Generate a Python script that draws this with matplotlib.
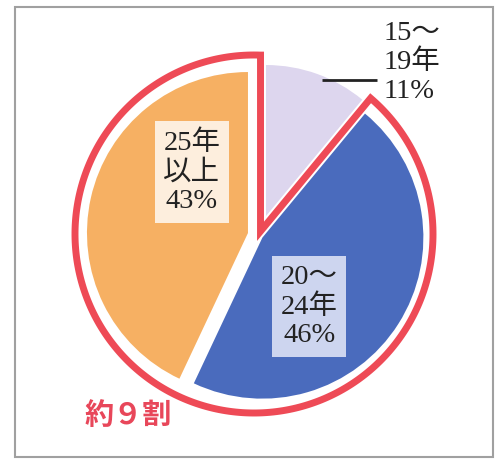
import numpy as np
import matplotlib.pyplot as plt
from matplotlib.patches import Polygon, Rectangle

# data
labels = ["15～\n19年\n11%", "20～\n24年\n46%", "25年\n以上\n43%"]
shares = [11, 46, 43]
colors = ["#ddd6ee", "#4a6bbd", "#f6b063"]
box_colors = [None, "#cdd5ef", "#fdeedd"]
note = "約９割"

W, H = 498, 461
fig = plt.figure(figsize=(W / 100, H / 100), dpi=100)
ax = fig.add_axes([0, 0, 1, 1])

# pie in pixel-like units (y up)
cx, cy = 259, H - 235.5
R = 161
wedges, _ = ax.pie(shares, colors=colors, startangle=90, counterclock=False,
                   radius=R, center=(cx, cy), explode=[20.7, 4, 11.3],
                   wedgeprops=dict(linewidth=0))
wedges[0].set_radius(151)
ax.set_xlim(0, W)
ax.set_ylim(0, H)
ax.set_aspect("auto")
ax.axis("off")

serif = ["Liberation Serif", "Noto Sans CJK JP"]
fs = 20.5

# red outline around the two big slices
lav = wedges[0]
Lx, Ly = lav.center
m = 5.5
a = np.deg2rad(lav.theta1)          # right edge of the small slice
d = np.array([np.cos(a), np.sin(a)])
n = np.array([d[1], -d[0]])         # normal toward the big slices
vx = Lx - m
vy = Ly + (m - (vx - Lx) * n[0]) / n[1]
V = np.array([vx, vy])
rc = np.array([cx - 5, cy + 1.5])
rr = 179
# diagonal end on the circle
p = V - rc
b = p @ d
t = -b + np.sqrt(b * b - (p @ p - rr * rr))
E = V + t * d
ang_start = np.degrees(np.arctan2(*(E - rc)[::-1]))
top_y = rc[1] + np.sqrt(rr ** 2 - (vx - rc[0]) ** 2)
ang_end = np.degrees(np.arctan2(top_y - rc[1], vx - rc[0])) - 360
th = np.deg2rad(np.linspace(ang_start, ang_end, 300))
arc = np.column_stack([rc[0] + rr * np.cos(th), rc[1] + rr * np.sin(th)])
pts = np.vstack([V, arc, [vx, top_y]])
ax.add_patch(Polygon(pts, closed=True, fill=False, edgecolor="#ee4a56",
                     linewidth=5, joinstyle="miter", zorder=3))

# labels inside the big slices
offsets = [None, (47, -69), (-56, 61)]
for i in (1, 2):
    wx, wy = wedges[i].center
    ox, oy = offsets[i]
    ax.text(wx + ox, wy + oy, labels[i], ha="center", va="center",
            fontsize=fs, family=serif, color="#222222", linespacing=1.2,
            bbox=dict(boxstyle="square,pad=0.3", fc=box_colors[i], ec="none"),
            zorder=4)

# leader + label for the small slice
mid = np.deg2rad(0.5 * (lav.theta1 + lav.theta2) - 3)
sx = Lx + 0.98 * lav.r * np.cos(mid) - 1
sy = Ly + 0.98 * lav.r * np.sin(mid)
ax.plot([sx, sx + 55], [sy, sy], color="#222222", lw=2, solid_capstyle="butt",
        zorder=4)
ax.text(sx + 61, sy + 17, labels[0], ha="left", va="center", fontsize=fs,
        family=serif, color="#222222", linespacing=1.2, zorder=4)

ax.text(128, H - 415, note, ha="center", va="center", fontsize=21,
        family=["Noto Sans CJK JP"], fontweight="bold", color="#e8475a")

# frame
ax.add_patch(Rectangle((15, H - 457), 478, 450, fill=False,
                       edgecolor="#a0a0a0", linewidth=1.5, zorder=5))

fig.savefig("out.png", dpi=100)
